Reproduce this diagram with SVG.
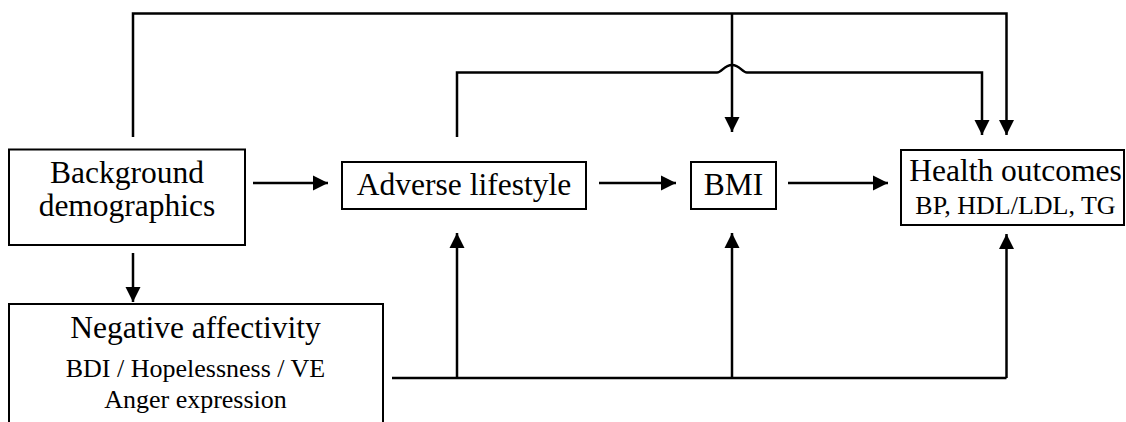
<svg xmlns="http://www.w3.org/2000/svg" width="1126" height="422" viewBox="0 0 1126 422">
  <style>
    .box { fill: #fff; stroke: #000; stroke-width: 2; }
    .wire { fill: none; stroke: #000; stroke-width: 2.5; }
    .t { font-family: "Liberation Serif", "Times New Roman", serif; fill: #000; text-anchor: middle; }
    .big { font-size: 31.5px; }
    .small { font-size: 26px; }
  </style>
  <defs>
    <marker id="arrow" markerUnits="userSpaceOnUse" markerWidth="16" markerHeight="16" viewBox="0 0 16 16" refX="15" refY="8" orient="auto">
      <path d="M0,0.5 L15,8 L0,15.5 Z" fill="#000"/>
    </marker>
  </defs>

  <g id="connectors">
    <!-- Background demographics to Health outcomes (top loop) -->
    <path class="wire" d="M133,137 V13.5 H1006.5 V135" marker-end="url(#arrow)"/>
    <!-- Background demographics to BMI (drop from top loop) -->
    <path class="wire" d="M732,13.5 V132" marker-end="url(#arrow)"/>
    <!-- Adverse lifestyle to Health outcomes, hopping over the BMI drop -->
    <path class="wire" d="M457,137 V72.5 H717 C722,72.5 724,65 732,65 C740,65 742,72.5 747,72.5 H982 V135" marker-end="url(#arrow)"/>
    <!-- Main chain -->
    <path class="wire" d="M253,183 H328" marker-end="url(#arrow)"/>
    <path class="wire" d="M599,183 H676" marker-end="url(#arrow)"/>
    <path class="wire" d="M788,183 H888" marker-end="url(#arrow)"/>
    <!-- Background demographics to Negative affectivity -->
    <path class="wire" d="M133,253 V302" marker-end="url(#arrow)"/>
    <!-- Negative affectivity bus -->
    <path class="wire" d="M392,378 H1006.5"/>
    <path class="wire" d="M457,378 V233" marker-end="url(#arrow)"/>
    <path class="wire" d="M732,378 V233" marker-end="url(#arrow)"/>
    <path class="wire" d="M1006.5,378 V234" marker-end="url(#arrow)"/>
  </g>

  <g id="background">
    <rect class="box" x="9" y="149.5" width="236" height="95.5"/>
    <text class="t big" x="127" y="183">Background</text>
    <text class="t big" x="127" y="216">demographics</text>
  </g>

  <g id="adverse">
    <rect class="box" x="342" y="162" width="244" height="47"/>
    <text class="t big" x="464" y="195">Adverse lifestyle</text>
  </g>

  <g id="bmi">
    <rect class="box" x="691" y="162" width="85" height="47"/>
    <text class="t big" x="733.5" y="195">BMI</text>
  </g>

  <g id="health">
    <rect class="box" x="901" y="150" width="223" height="75"/>
    <text class="t big" x="1015.5" y="181">Health outcomes</text>
    <text class="t small" x="1015.5" y="214">BP, HDL/LDL, TG</text>
  </g>

  <g id="negative">
    <rect class="box" x="9" y="304" width="374" height="130"/>
    <text class="t big" x="195.5" y="338">Negative affectivity</text>
    <text class="t small" x="195.5" y="377">BDI / Hopelessness / VE</text>
    <text class="t small" x="195.5" y="408">Anger expression</text>
  </g>
</svg>
